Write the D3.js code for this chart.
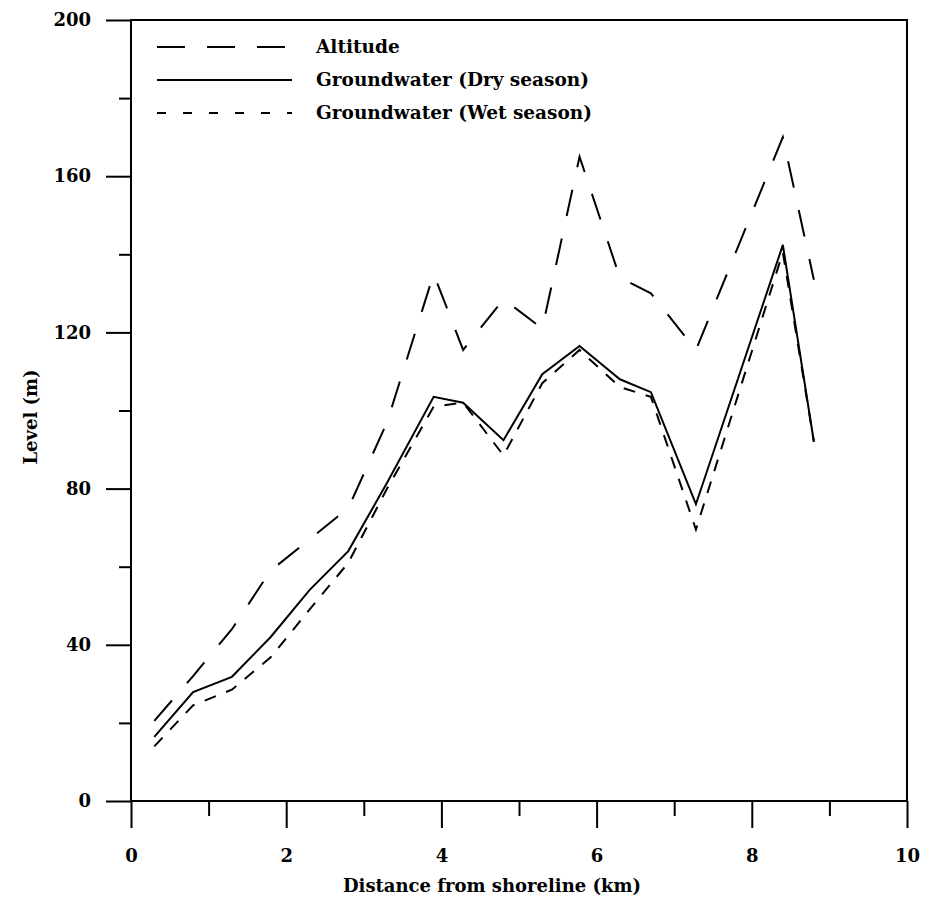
<!DOCTYPE html>
<html>
<head>
<meta charset="utf-8">
<script src="https://cdn.jsdelivr.net/npm/d3@7"></script>
<style>
  body { margin: 0; background: #fff; }
  svg text { font-family: "DejaVu Serif", "Liberation Serif", serif; font-weight: bold; fill: #000; }
</style>
</head>
<body>
<svg id="chart" width="929" height="901"></svg>
<script>
// distance from shoreline (km) for each sampling point
var distance = [0.3, 0.8, 1.3, 1.8, 2.3, 2.8, 3.3, 3.9, 4.28, 4.8, 5.3, 5.78, 6.3, 6.7, 7.28, 8.4, 8.8];
var altitude = [20.5, 32, 44, 59, 67, 75, 97, 135, 115.5, 128.5, 121, 165, 134, 130, 115.5, 170, 133.5];
var dryLevel = [16.4, 27.9, 31.8, 42, 54, 64, 81.5, 103.5, 102, 92.4, 109.3, 116.5, 108, 104.7, 76, 142.4, 92];
var wetLevel = [14, 24.5, 28.5, 36.8, 49, 61, 80, 101, 102, 88.5, 107, 115.5, 106, 103.5, 69.5, 140.5, 92];

var seriesNames = ["Altitude", "Groundwater (Dry season)", "Groundwater (Wet season)"];
var xMajor = [0, 2, 4, 6, 8, 10], xMinor = [1, 3, 5, 7, 9];
var yMajor = [0, 40, 80, 120, 160, 200], yMinor = [20, 60, 100, 140, 180];

var svg = d3.select("#chart");
var plotLeft = 131, plotRight = 907, plotTop = 20, plotBottom = 801;

var x = d3.scaleLinear().domain([0, 10]).range([plotLeft, plotRight]);
var y = d3.scaleLinear().domain([0, 200]).range([plotBottom, plotTop]);

// minor ticks first, then major with labels
svg.append("g").attr("transform", "translate(" + plotLeft + ",0)")
  .call(d3.axisLeft(y).tickValues(yMinor).tickSize(12).tickFormat(""));
svg.append("g").attr("transform", "translate(" + plotLeft + ",0)")
  .call(d3.axisLeft(y).tickValues(yMajor).tickSize(25).tickPadding(15).tickFormat(d3.format("d")));
svg.append("g").attr("transform", "translate(0," + plotBottom + ")")
  .call(d3.axisBottom(x).tickValues(xMinor).tickSize(15).tickFormat(""));
svg.append("g").attr("transform", "translate(0," + plotBottom + ")")
  .call(d3.axisBottom(x).tickValues(xMajor).tickSize(27).tickPadding(21).tickFormat(d3.format("d")));

svg.selectAll(".domain").remove();
svg.selectAll(".tick line").attr("stroke", "#000").attr("stroke-width", 2);
svg.selectAll(".tick text").style("font-size", "18px");

// frame
svg.append("rect")
  .attr("x", plotLeft).attr("y", plotTop)
  .attr("width", plotRight - plotLeft).attr("height", plotBottom - plotTop)
  .attr("fill", "none").attr("stroke", "#000").attr("stroke-width", 2);

// titles
svg.append("text")
  .attr("x", 492).attr("y", 892)
  .attr("text-anchor", "middle")
  .style("font-size", "18px")
  .text("Distance from shoreline (km)");
svg.append("text")
  .attr("transform", "translate(37,417) rotate(-90)")
  .attr("text-anchor", "middle")
  .style("font-size", "18px")
  .text("Level (m)");

// series lines
var dashes = ["27,23", null, "12,11"];
var series = [altitude, dryLevel, wetLevel];
var line = d3.line()
  .x(function(d, i){ return x(distance[i]); })
  .y(function(d){ return y(d); });

series.forEach(function(vals, k){
  svg.append("path")
    .datum(vals)
    .attr("d", line)
    .attr("fill", "none")
    .attr("stroke", "#000")
    .attr("stroke-width", 2)
    .attr("stroke-linejoin", "miter")
    .attr("stroke-dasharray", dashes[k]);
});

// legend
var legendY = [47, 80, 113];
seriesNames.forEach(function(name, k){
  svg.append("line")
    .attr("x1", 157).attr("x2", 292)
    .attr("y1", legendY[k]).attr("y2", legendY[k])
    .attr("stroke", "#000").attr("stroke-width", 2)
    .attr("stroke-dasharray", k == 0 ? "28,22" : dashes[k] ? "9,17" : null);
  svg.append("text")
    .attr("x", 316).attr("y", legendY[k])
    .attr("dy", "0.35em")
    .style("font-size", "18.5px")
    .text(name);
});
</script>
</body>
</html>
